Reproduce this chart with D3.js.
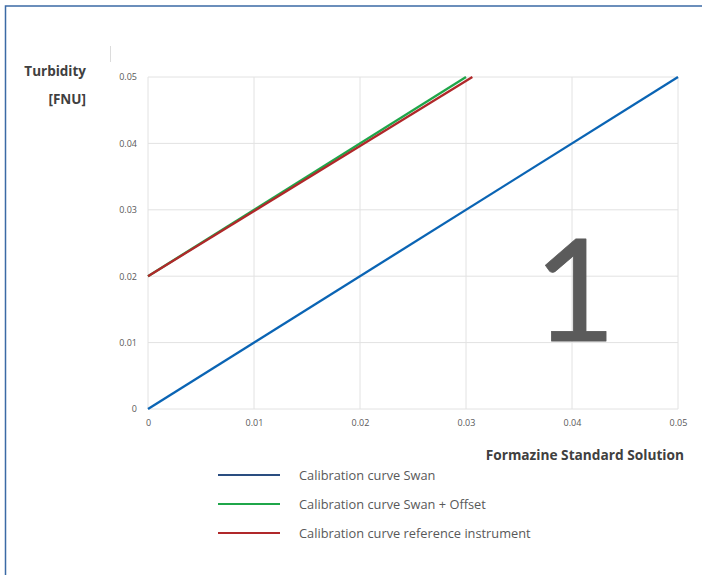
<!DOCTYPE html>
<html><head><meta charset="utf-8">
<script src="https://cdn.jsdelivr.net/npm/d3@7"></script>
<style>html,body{margin:0;padding:0;background:#fff;}svg{display:block;}</style>
</head><body>
<script>
const xTicks = [0, 0.01, 0.02, 0.03, 0.04, 0.05];
const yTicks = [0, 0.01, 0.02, 0.03, 0.04, 0.05];
const seriesNames = ["Calibration curve Swan", "Calibration curve Swan + Offset", "Calibration curve reference instrument"];
const swanX = [0, 0.05], swanY = [0, 0.05];
const offsetX = [0, 0.03], offsetY = [0.02, 0.05];
const refX = [0, 0.0306], refY = [0.02, 0.05];
const lineColors = ["#0a64b4", "#1fa64a", "#b0282a"];
const legendColors = ["#2a4d80", "#1fa64a", "#b0282a"];

const W = 702, H = 575;
const svg = d3.select("body").append("svg").attr("width", W).attr("height", H);
svg.append("rect").attr("x", 5.5).attr("y", 6).attr("width", W).attr("height", H)
  .attr("fill", "#fff").attr("stroke", "#3b6aa5").attr("stroke-width", 1.5);

const x = d3.scaleLinear().domain([0, 0.05]).range([148, 678]);
const y = d3.scaleLinear().domain([0, 0.05]).range([409, 77]);
const font = "'Open Sans', 'Segoe UI', sans-serif";

// faint artifact line left of the y labels
svg.append("line").attr("x1", 110.5).attr("x2", 110.5).attr("y1", 46).attr("y2", 62)
  .attr("stroke", "#dcdcdc").attr("stroke-width", 1);

// grid
svg.append("g").selectAll("line").data(xTicks).join("line")
  .attr("x1", d => x(d)).attr("x2", d => x(d)).attr("y1", y(0)).attr("y2", y(0.05))
  .attr("stroke", "#e2e2e2").attr("stroke-width", 1);
svg.append("g").selectAll("line").data(yTicks).join("line")
  .attr("x1", x(0)).attr("x2", x(0.05)).attr("y1", d => y(d)).attr("y2", d => y(d))
  .attr("stroke", "#e2e2e2").attr("stroke-width", 1);

// axes labels via d3 axes
const xAxis = svg.append("g").attr("transform", `translate(0,${y(0)})`)
  .call(d3.axisBottom(x).tickValues(xTicks).tickFormat(d => d === 0 ? "0" : d3.format(".2f")(d)).tickSize(0).tickPadding(11));
const yAxis = svg.append("g").attr("transform", `translate(${x(0) - 11},0)`)
  .call(d3.axisLeft(y).tickValues(yTicks).tickFormat(d => d === 0 ? "0" : d3.format(".2f")(d)).tickSize(0).tickPadding(0));
[xAxis, yAxis].forEach(a => {
  a.select(".domain").remove();
  a.selectAll("text").attr("fill", "#595959").style("font-family", font).style("font-size", "9px");
});

// big "1"
svg.append("text").attr("x", 575).attr("y", 341).attr("text-anchor", "middle")
  .attr("fill", "#5b5b5b").attr("stroke", "#5b5b5b").attr("stroke-width", 0.8).attr("stroke-linejoin", "round")
  .style("font-family", "Lato, sans-serif").style("font-weight", "normal").style("font-size", "142px").text("1");

// lines
const line = d3.line().x(d => x(d[0])).y(d => y(d[1]));
const series = [d3.zip(swanX, swanY), d3.zip(offsetX, offsetY), d3.zip(refX, refY)];
series.forEach((s, i) => {
  svg.append("path").datum(s).attr("d", line).attr("fill", "none")
    .attr("stroke", lineColors[i]).attr("stroke-width", 2.3);
});

// axis titles
const tFont = "13.5px";
svg.append("text").attr("x", 86).attr("y", 76).attr("text-anchor", "end")
  .attr("fill", "#404040").style("font-family", font).style("font-weight", "bold").style("font-size", tFont).text("Turbidity");
svg.append("text").attr("x", 86).attr("y", 104).attr("text-anchor", "end")
  .attr("fill", "#404040").style("font-family", font).style("font-weight", "bold").style("font-size", tFont).text("[FNU]");
svg.append("text").attr("x", 684).attr("y", 460).attr("text-anchor", "end")
  .attr("fill", "#404040").style("font-family", font).style("font-weight", "bold").style("font-size", "13.7px").text("Formazine Standard Solution");

// legend
const lg = svg.append("g");
seriesNames.forEach((n, i) => {
  const yy = 475 + i * 29;
  lg.append("line").attr("x1", 218).attr("x2", 280).attr("y1", yy).attr("y2", yy)
    .attr("stroke", legendColors[i]).attr("stroke-width", 2);
  lg.append("text").attr("x", 299).attr("y", yy + 4.5).attr("fill", "#595959")
    .style("font-family", font).style("font-size", "12.8px").text(n);
});
</script>
</body></html>
